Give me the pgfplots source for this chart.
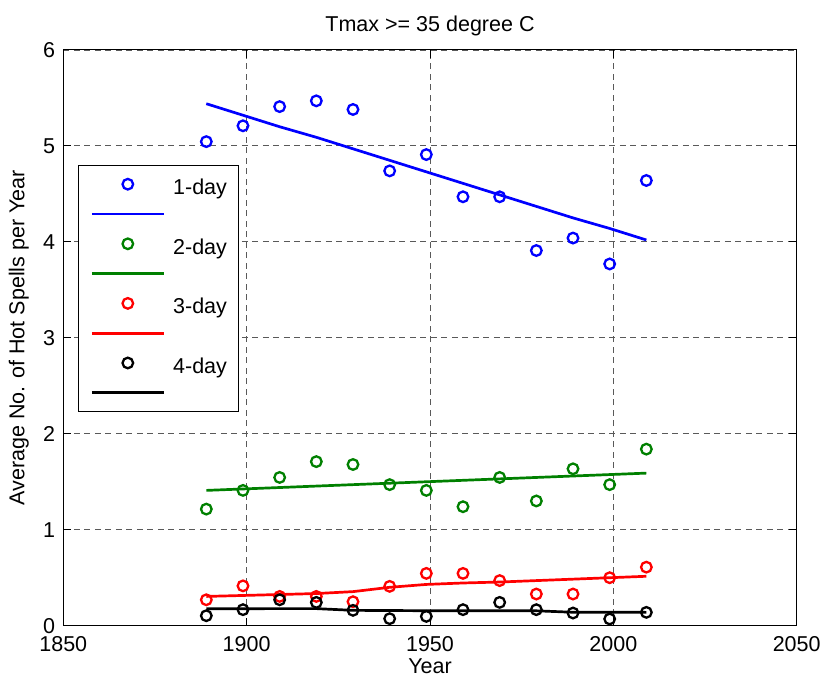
\documentclass[border=0pt]{standalone}
\usepackage{fontspec}
\setmainfont{Liberation Sans}
\usepackage{pgfplots}
\pgfplotsset{compat=1.18}
\definecolor{mgreen}{RGB}{0,128,0}
\begin{document}
\begin{tikzpicture}[font=\fontsize{21.5bp}{24bp}\selectfont]
\begin{axis}[
 scale only axis, width=733.4bp, height=575.7bp,
 xmin=1850, xmax=2050, ymin=0, ymax=6,
 xtick={1850,1900,...,2050}, ytick={0,1,...,6},
 /pgf/number format/assume math mode=true,
 /pgf/number format/set thousands separator={},
 tick label style={font=\fontsize{21.5bp}{24bp}\selectfont},
 xticklabel style={anchor=north, inner sep=0pt, yshift=-11bp},
 yticklabel style={anchor=east, inner sep=0pt, xshift=-8bp},
 tick align=inside, major tick length=8bp,
 tick style={black, line width=1bp},
 axis line style={black, line width=1bp},
 grid=major,
 major grid style={black!65, line width=0.9bp, dash pattern=on 6bp off 4.5bp},
 title={Tmax >= 35 degree C},
 title style={at={(axis description cs:0.5,1.0209)}, anchor=base, inner sep=0pt},
 xlabel={Year},
 xlabel style={at={(axis description cs:0.5,-0.0822)}, anchor=base, inner sep=0pt},
 ylabel={Average No. of Hot Spells per Year},
 ylabel style={at={(axis description cs:-0.0532,0.5)}, anchor=base, inner sep=0pt},
 legend cell align=left,
 legend style={at={(axis description cs:0.02,0.8003)}, anchor=north west, draw=black, line width=1bp, fill=white, inner xsep=12bp, inner ysep=7bp, row sep=6.3bp, nodes={inner sep=0pt}, /tikz/every odd column/.append style={column sep=8bp}, font=\fontsize{21.5bp}{24bp}\selectfont},
 legend image code/.code={\draw[mark repeat=2,mark phase=2,#1] plot coordinates {(0bp,0bp) (36bp,0bp) (72bp,0bp)};},
]
% 1-day
\addplot[only marks, mark=o, color=blue, mark size=5.3bp, line width=2.3bp] coordinates {
(1889,5.045) (1899,5.21) (1909,5.41) (1919,5.47) (1929,5.38) (1939,4.74) (1949,4.91) (1959,4.47) (1969,4.47) (1979,3.91) (1989,4.04) (1999,3.77) (2009,4.64)};
\addlegendentry{\rule[-2bp]{0pt}{24bp}1-day}
\addplot[no marks, color=blue, line width=2.7bp] coordinates {
(1889,5.44) (1899,5.32) (1909,5.20) (1919,5.09) (1929,4.97) (1939,4.85) (1949,4.73) (1959,4.61) (1969,4.49) (1979,4.37) (1989,4.25) (1999,4.14) (2009,4.02)};
\addlegendentry{\rule[-2bp]{0pt}{24bp}}
% 2-day
\addplot[only marks, mark=o, color=mgreen, mark size=5.3bp, line width=2.3bp] coordinates {
(1889,1.215) (1899,1.41) (1909,1.545) (1919,1.71) (1929,1.68) (1939,1.47) (1949,1.41) (1959,1.24) (1969,1.545) (1979,1.30) (1989,1.635) (1999,1.47) (2009,1.84)};
\addlegendentry{\rule[-2bp]{0pt}{24bp}2-day}
\addplot[no marks, color=mgreen, line width=2.7bp] coordinates {
(1889,1.41) (1899,1.425) (1909,1.44) (1919,1.455) (1929,1.47) (1939,1.485) (1949,1.50) (1959,1.515) (1969,1.53) (1979,1.545) (1989,1.56) (1999,1.575) (2009,1.59)};
\addlegendentry{\rule[-2bp]{0pt}{24bp}}
% 3-day
\addplot[only marks, mark=o, color=red, mark size=5.3bp, line width=2.3bp] coordinates {
(1889,0.27) (1899,0.415) (1909,0.305) (1919,0.305) (1929,0.25) (1939,0.41) (1949,0.545) (1959,0.545) (1969,0.47) (1979,0.33) (1989,0.33) (1999,0.50) (2009,0.61)};
\addlegendentry{\rule[-2bp]{0pt}{24bp}3-day}
\addplot[no marks, color=red, line width=2.7bp] coordinates {
(1889,0.305) (1899,0.315) (1909,0.325) (1919,0.335) (1929,0.355) (1939,0.40) (1949,0.43) (1959,0.445) (1969,0.455) (1979,0.47) (1989,0.485) (1999,0.50) (2009,0.515)};
\addlegendentry{\rule[-2bp]{0pt}{24bp}}
% 4-day
\addplot[only marks, mark=o, color=black, mark size=5.3bp, line width=2.3bp] coordinates {
(1889,0.104) (1899,0.167) (1909,0.27) (1919,0.243) (1929,0.16) (1939,0.073) (1949,0.097) (1959,0.167) (1969,0.243) (1979,0.167) (1989,0.132) (1999,0.07) (2009,0.139)};
\addlegendentry{\rule[-2bp]{0pt}{24bp}4-day}
\addplot[no marks, color=black, line width=2.7bp] coordinates {
(1889,0.177) (1899,0.177) (1909,0.178) (1919,0.178) (1929,0.16) (1939,0.158) (1949,0.156) (1959,0.155) (1969,0.155) (1979,0.155) (1989,0.14) (1999,0.14) (2009,0.139)};
\addlegendentry{\rule[-2bp]{0pt}{24bp}}
\end{axis}
\pgfresetboundingbox
\path ([shift={(-63.3bp,-61.3bp)}]current axis.south west) rectangle ([shift={(28.3bp,50bp)}]current axis.north east);
\end{tikzpicture}
\end{document}
